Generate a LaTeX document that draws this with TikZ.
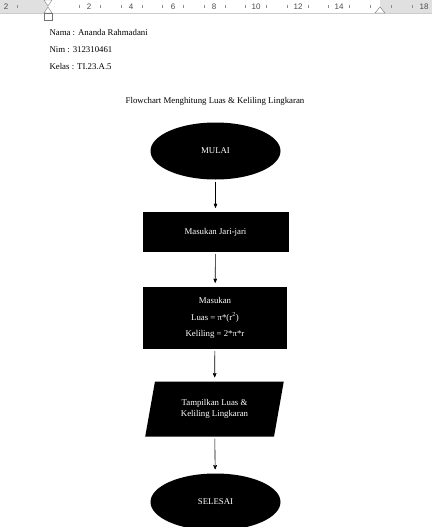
\documentclass[tikz,border=0pt]{standalone}
\usepackage{fontspec}
\setmainfont{Liberation Serif}
\newfontfamily\rulerfont{Liberation Sans}
\usetikzlibrary{shapes.geometric}
\usetikzlibrary{arrows}
\tikzset{x=1pt, y=-1pt,
    every node/.style={
        font=\fontsize{8.8}{10.5}\selectfont},
    terminal/.style={
        ellipse,
        fill=black, text=white,
        minimum width=130, minimum height=57},
    process/.style={
        rectangle,
        fill=black, text=white,
        align=center},
    inout/.style={
        trapezium,
        trapezium left angle=77, trapezium right angle=103,
        trapezium stretches=true,
        fill=black, text=white,
        minimum width=139, minimum height=55,
        align=center},
    flow/.style={
        draw,
        ->,>=stealth',
        line width=0.6pt,
        shorten <=2pt, shorten >=4pt},
    rulertext/.style={
        font=\rulerfont\fontsize{8}{9}\selectfont,
        text=black!70,
        inner sep=0pt}}

\begin{document}
\begin{tikzpicture}
        \useasboundingbox[fill=white] (0,0) rectangle (432,527);

        % ruler
        \fill[black!12] (0,0) rectangle (48,13);
        \fill[black!12] (380,0) rectangle (432,13);
        \draw[black!20] (0,13) -- (432,13);
        \foreach \x/\n in {6/2, 89/2, 131/4, 173/6, 214/8, 256/10, 298/12, 339/14, 424/18}
            \node[rulertext] at (\x,6.5) {\n};
        \foreach \x in {17, 79, 100, 121, 142, 162, 183, 204, 225, 245, 266, 287, 308, 328, 349, 370, 391, 412}
            \draw[black!45] (\x,5) -- (\x,8);
        \draw[black!55, fill=white] (44,0) -- (52,0) -- (48,6) -- cycle;
        \draw[black!55, fill=white] (44,13) -- (52,13) -- (48,7) -- cycle;
        \draw[black!55, fill=white] (44,13) rectangle (52,20);
        \draw[black!55, fill=white] (375,13) -- (385,13) -- (380,7) -- cycle;

        % header
        \node[anchor=west] (nama) at (46,33) {Nama : Ananda Rahmadani};
        \node[anchor=west] (nim) at (46,50) {Nim : 312310461};
        \node[anchor=west] (kelas) at (46,67) {Kelas : TI.23.A.5};
        \node (judul) at (215,101) {Flowchart Menghitung Luas \& Keliling Lingkaran};

        % flowchart
        \node[terminal] (mulai) at (215.5,151) {MULAI};
        \node[process, minimum width=146, minimum height=40] (jari) at (215.5,232) {Masukan Jari-jari};
        \node[process, minimum width=144, minimum height=62] (rumus) at (215,318)
            {Masukan\\[6pt]Luas = π*(r\textsuperscript{2})\\[6pt]Keliling = 2*π*r};
        \node[inout] (tampil) at (214.5,409) {Tampilkan Luas \&\\[1pt]Keliling Lingkaran};
        \node[terminal] (selesai) at (215.5,502) {SELESAI};

        \draw[flow] (mulai) -- (jari);
        \draw[flow] (jari) -- (rumus);
        \draw[flow] (rumus) -- (tampil);
        \draw[flow] (tampil) -- (selesai);
    \end{tikzpicture}
\end{document}
